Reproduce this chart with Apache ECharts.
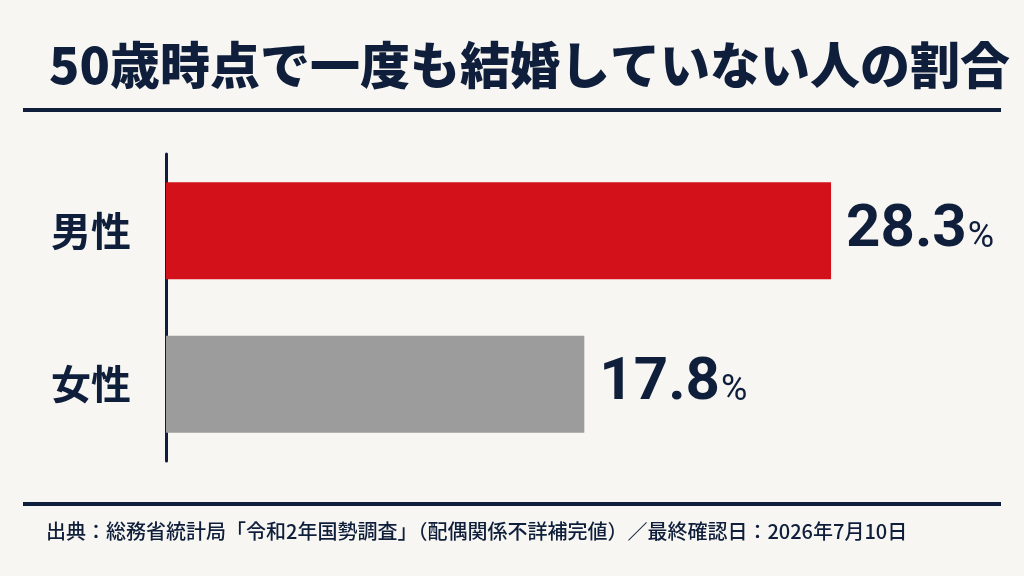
<!DOCTYPE html>
<html>
<head>
<meta charset="utf-8">
<script src="https://cdn.jsdelivr.net/npm/echarts@6/dist/echarts.min.js"></script>
<style>
html,body{margin:0;padding:0;background:#f7f6f2;}
#c{width:1024px;height:576px;}
</style>
</head>
<body>
<div id="c"></div>
<script>
const titleText = '50歳時点で一度も結婚していない人の割合';
const categories = ['男性', '女性'];
const values = [28.3, 17.8];
const barColors = ['#d2111b', '#9c9c9c'];
const sourceText = '出典：総務省統計局「令和2年国勢調査」（配偶関係不詳補完値）／最終確認日：2026年7月10日';

const navy = '#0f1e3a';
const jp = '"Noto Sans CJK JP", "Noto Sans", sans-serif';
const num = 'Roboto, sans-serif';

const chart = echarts.init(document.getElementById('c'));
chart.setOption({
  backgroundColor: '#f7f6f2',
  animation: false,
  title: {
    text: titleText,
    left: 44,
    top: 35,
    textStyle: { fontFamily: jp, fontSize: 50, fontWeight: 900, color: navy }
  },
  graphic: [
    { type: 'rect', shape: { x: 23, y: 108, width: 978, height: 4 }, style: { fill: navy } },
    { type: 'rect', shape: { x: 23, y: 502, width: 978, height: 4 }, style: { fill: navy } },
    { type: 'text', left: 46, top: 521,
      style: { text: sourceText, fontFamily: jp, fontSize: 20, fontWeight: 500, fill: navy } }
  ],
  grid: { left: 166, top: 154, height: 307, width: 705 },
  xAxis: { type: 'value', min: 0, max: 30, show: false },
  yAxis: {
    type: 'category',
    data: categories,
    inverse: true,
    axisLine: { show: true, lineStyle: { color: navy, width: 3 } },
    axisTick: { show: false },
    axisLabel: { fontFamily: jp, fontSize: 40, fontWeight: 'bold', color: navy, margin: 35 }
  },
  series: [{
    type: 'bar',
    data: values.map((v, i) => ({ value: v, itemStyle: { color: barColors[i] } })),
    barWidth: 97,
    label: {
      show: true,
      position: 'right',
      distance: 15,
      formatter: p => '{v|' + p.value.toFixed(1) + '}{p|%}',
      rich: {
        v: { fontFamily: num, fontSize: 60, fontWeight: 'bold', color: navy, lineHeight: 66 },
        p: { fontFamily: num, fontSize: 36, fontWeight: 'normal', color: navy, verticalAlign: 'bottom', padding: [0, 0, 8, 1] }
      }
    }
  }]
});
</script>
</body>
</html>
